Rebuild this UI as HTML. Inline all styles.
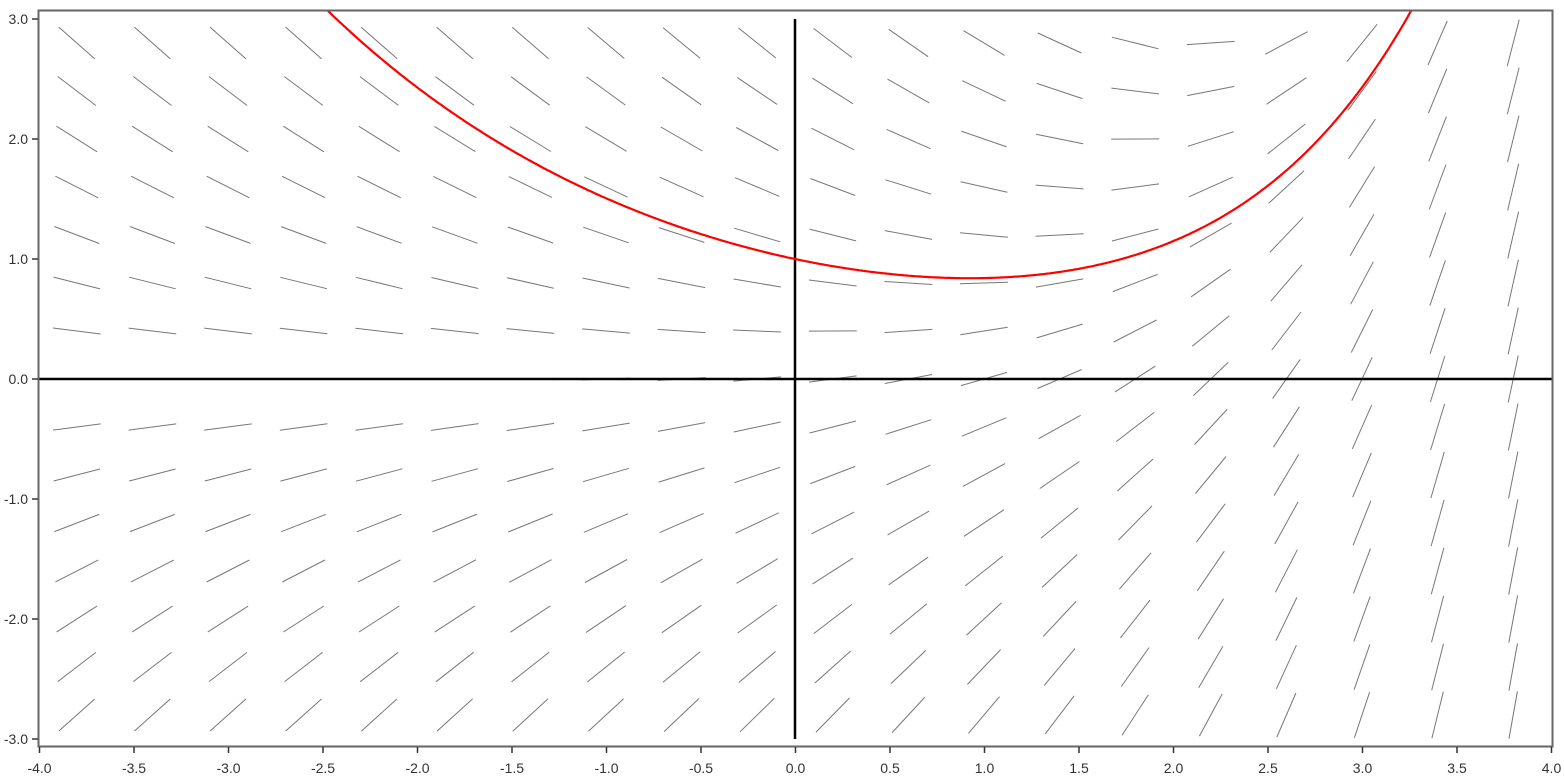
<!DOCTYPE html>
<html><head><meta charset="utf-8"><style>
html,body{margin:0;padding:0;background:#fff;}
svg{display:block;font-family:"Liberation Sans",sans-serif;}
</style></head><body>
<svg id="s" width="1565" height="778" xmlns="http://www.w3.org/2000/svg"></svg>
<script>
const s=document.getElementById('s');
const X=x=>795+x*189, Y=y=>379-y*120;
let h='';
for(let i=0;i<20;i++){const x=-3.8+0.4*i;
 for(let j=-7;j<=7;j++){const y=0.4*j; if(Math.abs(y)>2.85)continue;
  const m=Math.exp(x)/6-0.5*y;
  const pm=m*120/189; const L=24; const a=Math.atan(pm);
  const dx=L*Math.cos(a), dy=L*Math.sin(a); const cx=X(x),cy=Y(y);
  h+=`<line x1="${(cx-dx).toFixed(1)}" y1="${(cy+dy).toFixed(1)}" x2="${(cx+dx).toFixed(1)}" y2="${(cy-dy).toFixed(1)}" stroke="#777" stroke-width="1"/>`;
 }}
h+=`<line x1="38" y1="379" x2="1552" y2="379" stroke="#000" stroke-width="2.5"/>`;
h+=`<line x1="795" y1="19" x2="795" y2="739" stroke="#000" stroke-width="2.5"/>`;
let d='';
for(let x=-2.6;x<=3.35;x+=0.01){const A=1/9;const y=A*Math.exp(x)+(1-A)*Math.exp(-0.5*x);
 d+=(d?'L':'M')+X(x).toFixed(1)+','+Y(y).toFixed(1);}
h+=`<clipPath id="c"><rect x="39" y="11" width="1513" height="735"/></clipPath>`;
h+=`<path d="${d}" fill="none" stroke="#f00" stroke-width="2.2" clip-path="url(#c)"/>`;
h+=`<rect x="38.5" y="10.5" width="1514" height="736" fill="none" stroke="#666" stroke-width="2"/>`;
for(let k=0;k<=16;k++){const x=-4+0.5*k,px=39.5+k*(1512/16);
 h+=`<line x1="${px}" y1="747" x2="${px}" y2="753" stroke="#333" stroke-width="1.5"/>`;
 h+=`<text x="${px}" y="773" font-size="14" text-anchor="middle" fill="#333">${x.toFixed(1)}</text>`;}
for(let k=0;k<=6;k++){const y=3-k,py=Y(y);
 h+=`<line x1="32" y1="${py}" x2="38" y2="${py}" stroke="#333" stroke-width="1.5"/>`;
 h+=`<text x="28" y="${py+5}" font-size="14" text-anchor="end" fill="#333">${y.toFixed(1)}</text>`;}
s.innerHTML=h;
</script>
</body></html>
